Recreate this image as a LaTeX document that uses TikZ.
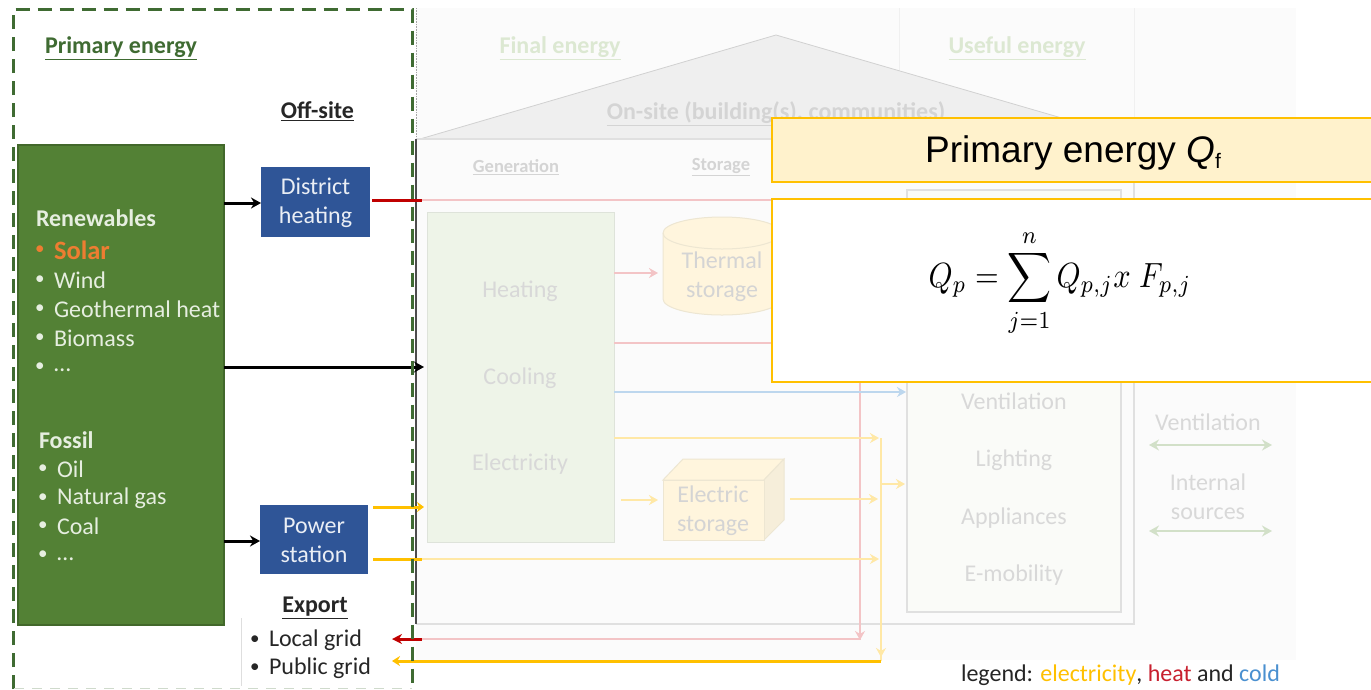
\documentclass[tikz,border=0pt]{standalone}
\usepackage{fontspec}
\usepackage{graphicx}
\setmainfont{Carlito}
\newfontfamily\arialf{Liberation Sans}
\usetikzlibrary{arrows.meta}
\definecolor{bgfaint}{HTML}{FBFBFB}
\definecolor{wallc}{HTML}{E0E0E0}
\definecolor{roofc}{HTML}{EFEFEF}
\definecolor{darkgreen}{HTML}{538135}
\definecolor{darkgreenedge}{HTML}{42682B}
\definecolor{dashgreen}{HTML}{3F6B32}
\definecolor{blueb}{HTML}{2F5597}
\definecolor{gengreen}{HTML}{EEF4E8}
\definecolor{genedge}{HTML}{DEE3DA}
\definecolor{storef}{HTML}{FFF5DD}
\definecolor{storee}{HTML}{EDE6D2}
\definecolor{storeside}{HTML}{F6EEDA}
\definecolor{usef}{HTML}{FAFBF8}
\definecolor{paletext}{HTML}{D8D8D8}
\definecolor{palegreen}{HTML}{DCE8D2}
\definecolor{onw}{HTML}{E6EEE0}
\definecolor{palered}{HTML}{F3C4C6}
\definecolor{paley}{HTML}{FFE8A6}
\definecolor{paleb}{HTML}{BDD7EE}
\definecolor{paleg}{HTML}{D2E0C8}
\definecolor{strongred}{HTML}{C00000}
\definecolor{strongy}{HTML}{FFC000}
\definecolor{capfill}{HTML}{FFF2CC}
\definecolor{solar}{HTML}{ED7D31}
\definecolor{coldc}{HTML}{4A90D0}
\definecolor{heatc}{HTML}{C8202F}
\newcommand{\bodysize}{\fontsize{24}{29}\selectfont}
\newcommand{\boldsize}{\fontsize{24}{29}\bfseries\selectfont}
\tikzset{
  x=1pt,y=-1pt,
  txt/.style={inner sep=0pt,outer sep=0pt,font=\bodysize},
  ongreen/.style={txt,anchor=west,text=onw},
  bul/.style={txt,anchor=west,text=onw,font=\fontsize{19}{19}\selectfont},
  twoline/.style={txt,align=center,font=\bodysize},
  onblue/.style={twoline,text=white!90!blueb},
  pale/.style={txt,text=paletext},
  paleh/.style={txt,text=palegreen,font=\boldsize},
  blk/.style={txt,text=black!85},
  blacka/.style={draw=black,line width=3pt,-{Stealth[length=10pt,width=11pt]}},
  redp/.style={draw=palered,line width=2.6pt},
  redpa/.style={redp,-{Stealth[length=9pt,width=10pt]}},
  yp/.style={draw=paley,line width=2.6pt},
  ypa/.style={yp,-{Stealth[length=9pt,width=10pt]}},
  bpa/.style={draw=paleb,line width=2.6pt,-{Stealth[length=9pt,width=10pt]}},
  gpa/.style={draw=paleg,line width=2.6pt,{Stealth[length=10pt,width=11pt]}-{Stealth[length=10pt,width=11pt]}},
  reds/.style={draw=strongred,line width=3pt},
  ys/.style={draw=strongy,line width=3pt},
  bluebox/.style={fill=blueb,draw=none,inner sep=0pt,outer sep=0pt},
  capbox/.style={draw=strongy,line width=2pt},
}
\begin{document}
\begin{tikzpicture}
\useasboundingbox (0,0) rectangle (1371,689);
\fill[white] (0,0) rectangle (1371,689);
% faint background
\fill[bgfaint] (416,8) rectangle (1296,660);
\draw[black!6,line width=0.8pt] (899,8) -- (899,120);
\draw[black!6,line width=0.8pt] (1134,8) -- (1134,140);
\draw[black!35,densely dotted,line width=0.6pt] (416,8) -- (416,139);
% house
\fill[roofc] (420,139) -- (776,35) -- (1134,139) -- cycle;
\draw[black!18,line width=0.8pt] (420,139) -- (776,35) -- (1134,139);
\draw[wallc,line width=1.5pt] (416,139) -- (1134,139) -- (1134,624) -- (416,624);
\draw[black!70,line width=2pt] (416,139) -- (416,624);
\node[paleh] (finalE) at (560,48) {\underline{Final energy}};
\node[paleh] (usefulE) at (1017,48) {\underline{Useful energy}};
\node[txt,text=black!17,font=\boldsize] (onsite) at (776,114) {\underline{On-site (building(s), communities)}};
\node[txt,text=black!17,font=\fontsize{18.5}{22}\bfseries\selectfont] (genL) at (516,167) {\underline{Generation}};
\node[txt,text=black!17,font=\fontsize{18.5}{22}\bfseries\selectfont] (stoL) at (721,167) {\underline{Storage}};
% generation box
\node[fill=gengreen,draw=genedge,line width=1pt,minimum width=187pt,minimum height=330pt,inner sep=0pt,outer sep=0pt] (gen) at (520.5,377) {};
\node[pale] (heatingT) at (520,291) {Heating};
\node[pale] (coolingT) at (520,378) {Cooling};
\node[pale] (elecT) at (520,464) {Electricity};
% thermal storage
\path[fill=storef,draw=storee,line width=1pt] (663,233) -- (663,299) arc[start angle=180,end angle=0,x radius=59,y radius=16] -- (781,233) arc[start angle=0,end angle=-180,x radius=59,y radius=16] -- cycle;
\path[draw=storee,line width=1pt] (663,233) arc[start angle=180,end angle=0,x radius=59,y radius=16];
\node[twoline,text=black!17] (thermT) at (722,277) {Thermal\\storage};
\coordinate (thermIn) at (658,273);
% electric storage
\fill[storef,draw=storee,line width=1pt] (663,480) -- (683,459) -- (784,459) -- (764,480) -- cycle;
\fill[storeside,draw=storee,line width=1pt] (764,480) -- (784,459) -- (784,520) -- (764,540) -- cycle;
\node[fill=storef,draw=storee,line width=1pt,minimum width=101pt,minimum height=60pt,inner sep=0pt,outer sep=0pt] (estore) at (713.5,510) {};
\node[twoline,text=black!17] (estoreT) at (713,511) {Electric\\storage};
% useful box
\node[fill=usef,draw=wallc,line width=1.2pt,minimum width=214pt,minimum height=422pt,inner sep=0pt,outer sep=0pt] (useB) at (1014,401) {};
\node[pale] (ventT) at (1014,401) {Ventilation};
\node[pale] (lightT) at (1014,460) {Lighting};
\node[pale] (applT) at (1014,518) {Appliances};
\node[pale] (emobT) at (1014,575) {E-mobility};
\node[pale] (vent2) at (1208,422) {Ventilation};
\node[twoline,text=paletext] (intS) at (1208,497) {Internal\\sources};
\coordinate (g1a) at (1149,445); \coordinate (g1b) at (1272,445);
\coordinate (g2a) at (1149,531); \coordinate (g2b) at (1272,531);
\draw[gpa] (g1a) -- (g1b);
\draw[gpa] (g2a) -- (g2b);
% left nodes
\node[fill=darkgreen,draw=darkgreenedge,line width=1.2pt,minimum width=206pt,minimum height=480pt,inner sep=0pt,outer sep=0pt] (src) at (121,385) {};
\node[bluebox,minimum width=109pt,minimum height=70pt] (dh) at (315.5,202) {};
\node[onblue] (dhT) at (315.5,203) {District\\heating};
\node[bluebox,minimum width=108pt,minimum height=69pt] (ps) at (314,539.5) {};
\node[onblue] (psT) at (314,540) {Power\\station};
% coordinates for connectors
\coordinate (dhOut) at (372,200); \coordinate (wallDh) at (422,200); \coordinate (dhEnd) at (780,200);
\coordinate (srcMid) at (224,367); \coordinate (genIn) at (424,367);
\coordinate (psOutA) at (373,507); \coordinate (psA) at (424,507);
\coordinate (psOutB) at (373,559); \coordinate (psB) at (422,559); \coordinate (busB) at (879,559);
\coordinate (genH) at (614,273); \coordinate (genH2) at (614,343); \coordinate (hEnd) at (780,343);
\coordinate (genC) at (614,392); \coordinate (useC) at (906,392);
\coordinate (genE) at (614,438); \coordinate (busE) at (879,438);
\coordinate (eIn0) at (621,500); \coordinate (eIn1) at (658,500);
\coordinate (eOut0) at (790,499); \coordinate (eOut1) at (878,499);
\coordinate (busTop) at (881,438); \coordinate (busBot) at (881,661);
\coordinate (busTap) at (881,484); \coordinate (useE) at (905,484);
\coordinate (redTop) at (860,370); \coordinate (redBot) at (860,639);
\coordinate (redWall) at (422,639); \coordinate (exportR) at (392,639);
\coordinate (exportY) at (392,661);
% pale connectors
\draw[redp] (wallDh) -- (dhEnd);
\draw[redpa] (genH) -- (thermIn);
\draw[redp] (genH2) -- (hEnd);
\draw[redp] (redTop) -- (redBot) -- (redWall);
\draw[redpa] (860,630) -- (860,640);
\draw[bpa] (genC) -- (useC);
\draw[ypa] (genE) -- (busE);
\draw[ypa] (eIn0) -- (eIn1);
\draw[ypa] (eOut0) -- (eOut1);
\draw[ypa] (psB) -- (busB);
\draw[yp] (busTop) -- (busBot);
\draw[ypa] (busTap) -- (useE);
\draw[ypa] (881,645) -- (881,657);
% strong connectors
\draw[reds] (dhOut) -- (wallDh);
\draw[reds,-{Stealth[length=10pt,width=10pt]}] (redWall) -- (exportR);
\draw[ys,-{Stealth[length=7pt,width=10pt]}] (psOutA) -- (psA);
\draw[ys] (psOutB) -- (psB);
\draw[ys,-{Stealth[length=8pt,width=10pt]}] (busBot) -- (exportY);
\coordinate (srcDh) at (224,203);
\coordinate (srcPs) at (224,541);
\draw[blacka] (srcDh) -- (dh.west |- srcDh);
\draw[blacka] (srcPs) -- (ps.west |- srcPs);
\draw[blacka] (srcMid) -- (genIn);
% source text
\node[ongreen,font=\boldsize] (ren) at (36,218) {Renewables};
\node[bul,text=solar] (solB) at (35,250) {•};
\node[ongreen,text=solar,font=\fontsize{26.5}{29}\bfseries\selectfont] (sol) at (54,250) {Solar};
\node[bul] (b1) at (35,280) {•}; \node[ongreen] (t1) at (54,280) {Wind};
\node[bul] (b2) at (35,309) {•}; \node[ongreen] (t2) at (54,309) {Geothermal heat};
\node[bul] (b3) at (35,338) {•}; \node[ongreen] (t3) at (54,338) {Biomass};
\node[bul] (b4) at (35,367) {•}; \node[ongreen] (t4) at (54,370) {…};
\node[ongreen,font=\boldsize] (fos) at (39,440) {Fossil};
\node[bul] (b5) at (38,469) {•}; \node[ongreen] (t5) at (57,469) {Oil};
\node[bul] (b6) at (38,498) {•}; \node[ongreen] (t6) at (57,498) {Natural gas};
\node[bul] (b7) at (38,526) {•}; \node[ongreen] (t7) at (57,526) {Coal};
\node[bul] (b8) at (38,555) {•}; \node[ongreen] (t8) at (57,559) {…};
% headings
\node[txt,text=dashgreen,font=\boldsize,anchor=west] (prim) at (45,48) {\underline{Primary energy}};
\node[blk,font=\boldsize] (off) at (317.5,111) {\underline{Off-site}};
\node[blk,font=\boldsize] (exp) at (315,608) {\underline{Export}};
\draw[black!13,line width=0.8pt] (241,618) -- (241,686);
\node[bul,text=black!85] (lb1) at (250,640) {•}; \node[blk,anchor=west] (lg) at (269,640) {Local grid};
\node[bul,text=black!85] (lb2) at (250,668) {•}; \node[blk,anchor=west] (pg) at (269,668) {Public grid};
% dashed frame
\draw[dashgreen,line width=3pt,dash pattern=on 14pt off 8pt] (13.5,689) -- (13.5,9) -- (412,9) -- (412,689);
\draw[dashgreen!25,line width=0.8pt,dash pattern=on 10pt off 8pt] (14,688) -- (412,688);
% legend
\node[blk,anchor=west] (leg) at (961,675) {legend: \textcolor{strongy}{electricity}, \textcolor{heatc}{heat} and \textcolor{coldc}{cold}};
% overlay boxes
\node[capbox,fill=capfill,anchor=north west,minimum width=602pt,minimum height=64pt,inner sep=0pt] (cap) at (771,117) {};
\node[capbox,fill=white,anchor=north west,minimum width=602pt,minimum height=183pt,inner sep=0pt] (eqbox) at (771,198) {};
\node[inner sep=0pt,text=black,font=\arialf\fontsize{37}{40}\selectfont,anchor=base west] (capT) at (925,162) {Primary energy \textit{Q}\textsubscript{\fontsize{21}{21}\selectfont f}};
\node[inner sep=0pt,text=black] (eq) at (1060,283) {\scalebox{3.05}[3.5]{$\displaystyle Q_p=\sum_{j=1}^{n}Q_{p,j}x\;F_{p,j}$}};
\end{tikzpicture}
\end{document}
